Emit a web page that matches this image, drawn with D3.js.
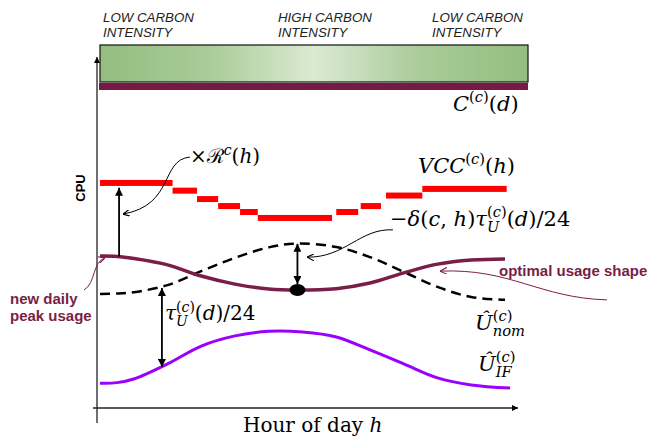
<!DOCTYPE html>
<html>
<head>
<meta charset="utf-8">
<style>
  body { margin: 0; background: #fff; }
  svg { display: block; }
</style>
</head>
<body>
<svg width="655" height="439"></svg>
<script src="https://cdn.jsdelivr.net/npm/d3@7"></script>
<script>
  // hour of day samples and usage curves (CPU, arbitrary units)
  var hours = [0, 1, 2, 4, 6, 8, 10, 11.7, 14, 16, 18, 20, 22, 24]
  var optimalUsage = [43.4, 43.3, 42.7, 40.9, 37.7, 35.4, 34.0, 33.7, 34.1, 35.7, 38.6, 41.1, 42.3, 42.6]
  var nominalUsage = [32.6, 32.7, 33.1, 35.1, 39.1, 42.9, 45.9, 47.0, 46.0, 43.1, 38.9, 34.6, 31.7, 30.9]

  var ifHours = [0, 1, 2, 4, 6, 8, 10, 12, 14, 16, 18, 20, 22, 24.3]
  var ifUsage = [7.1, 7.25, 8.3, 12.6, 17.7, 20.6, 21.9, 21.7, 20.3, 16.6, 12.6, 8.6, 6.6, 5.7]

  // virtual capacity curve, one step per block of hours
  var vccStart = [0, 4.3, 5.75, 7, 8.3, 9.35, 14, 15.45, 16.95, 19.1]
  var vccEnd = [4.3, 5.75, 7, 8.3, 9.35, 13.75, 15.3, 16.65, 19.1, 24.1]
  var vccValue = [64.3, 62.1, 59.7, 57.7, 56.0, 54.3, 56.0, 57.7, 60.7, 62.6]

  var carbonLabels = [["LOW CARBON", "INTENSITY"], ["HIGH CARBON", "INTENSITY"], ["LOW CARBON", "INTENSITY"]]
  var carbonShades = ["#94bd80", "#a9cb98", "#dbead3", "#a9cb98", "#94bd80"]

  var serif = "'DejaVu Serif', 'Liberation Serif', serif"
  var sans = "'Liberation Sans', Arial, sans-serif"
  var maroon = "#7a1e48"

  var svg = d3.select("svg")

  var x = d3.scaleLinear().domain([0, 24]).range([100, 505])
  var y = d3.scaleLinear().domain([0, 100]).range([408, 58])

  function P(h, v) {
    return [x(h), y(v)]
  }

  // markers
  var defs = svg.append("defs")
  function marker(id, color, w, h, open) {
    var m = defs.append("marker").attr("id", id)
      .attr("viewBox", "0 0 10 10").attr("refX", 10).attr("refY", 5)
      .attr("markerUnits", "userSpaceOnUse")
      .attr("markerWidth", w).attr("markerHeight", h)
      .attr("orient", "auto-start-reverse")
    if (open) {
      m.append("path").attr("d", "M0,0L10,5L0,10").attr("fill", "none")
        .attr("stroke", color).attr("stroke-width", 1.6)
    } else {
      m.append("path").attr("d", "M0,0L10,5L0,10z").attr("fill", color)
    }
  }
  marker("head", "#000", 9, 8, false)
  marker("thin", "#000", 7, 7, true)
  marker("thinM", maroon, 7, 7, true)
  marker("axis", "#000", 7, 6, false)

  var grad = defs.append("linearGradient").attr("id", "carbon")
  carbonShades.forEach(function (c, i) {
    grad.append("stop").attr("offset", i / (carbonShades.length - 1)).attr("stop-color", c)
  })

  // carbon intensity band
  svg.append("rect")
    .attr("x", x(0)).attr("y", 45)
    .attr("width", 428).attr("height", 37)
    .attr("fill", "url(#carbon)").attr("stroke", "#111").attr("stroke-width", 1.2)
  svg.append("rect")
    .attr("x", x(0) - 1).attr("y", 83)
    .attr("width", 429).attr("height", 7)
    .attr("fill", "#761a43")

  var labelX = [103, 278, 432]
  carbonLabels.forEach(function (lines, i) {
    var t = svg.append("text").attr("x", labelX[i]).attr("y", 22)
      .attr("font-family", sans).attr("font-style", "italic")
      .attr("font-size", 13.3).attr("fill", "#222")
    lines.forEach(function (l, j) {
      t.append("tspan").attr("x", labelX[i]).attr("dy", j ? 15 : 0).text(l)
    })
  })

  // axes
  svg.append("line")
    .attr("x1", 97).attr("y1", 423).attr("x2", 97).attr("y2", 57)
    .attr("stroke", "#222").attr("stroke-width", 1.3).attr("marker-end", "url(#axis)")
  svg.append("line")
    .attr("x1", 93).attr("y1", y(0)).attr("x2", 518).attr("y2", y(0))
    .attr("stroke", "#222").attr("stroke-width", 1.3).attr("marker-end", "url(#axis)")

  svg.append("text")
    .attr("transform", "translate(85,188) rotate(-90)")
    .attr("text-anchor", "middle")
    .attr("font-family", sans).attr("font-weight", "bold").attr("font-size", 13)
    .text("CPU")

  // VCC steps
  svg.append("g").selectAll("rect").data(vccValue).join("rect")
    .attr("x", function (d, i) { return x(vccStart[i]) })
    .attr("width", function (d, i) { return x(vccEnd[i]) - x(vccStart[i]) })
    .attr("y", function (d) { return y(d) - 3 })
    .attr("height", 6)
    .attr("fill", "#ff0000")

  // usage curves
  var line = d3.line()
    .x(function (d) { return x(d[0]) })
    .y(function (d) { return y(d[1]) })
    .curve(d3.curveCatmullRom.alpha(0.5))

  svg.append("path")
    .datum(d3.zip(ifHours, ifUsage))
    .attr("fill", "none").attr("stroke", "#9b00ff").attr("stroke-width", 3)
    .attr("d", line)

  svg.append("path")
    .datum(d3.zip(hours, nominalUsage))
    .attr("fill", "none").attr("stroke", "#000").attr("stroke-width", 2.5)
    .attr("stroke-dasharray", "10,6")
    .attr("d", line)

  svg.append("path")
    .datum(d3.zip(hours, optimalUsage))
    .attr("fill", "none").attr("stroke", maroon).attr("stroke-width", 3.5)
    .attr("d", line)

  // vertical arrows: [hour, from value, to value, both ends]
  var arrows = [[1.13, 43.3, 62.9, false], [11.7, 35.4, 46.9, true], [3.67, 34.3, 11.7, true]]
  arrows.forEach(function (a) {
    svg.append("line")
      .attr("x1", x(a[0])).attr("y1", y(a[1]))
      .attr("x2", x(a[0])).attr("y2", y(a[2]))
      .attr("stroke", "#000").attr("stroke-width", 1.8)
      .attr("marker-end", "url(#head)")
      .attr("marker-start", a[3] ? "url(#head)" : null)
  })

  svg.append("ellipse")
    .attr("cx", x(11.7)).attr("cy", y(33.7))
    .attr("rx", 8).attr("ry", 6).attr("fill", "#000")

  // curved leader lines, control points in (hour, value)
  var leaders = [
    [[5.33, 71.7], [3.56, 70.9], [4.44, 58.0], [1.36, 55.4], "#000", "thin"],
    [[17.36, 50.9], [15.41, 51.4], [14.52, 42.9], [12.27, 43.1], "#000", "thin"],
    [[-0.95, 33.7], [-0.24, 35.7], [-0.47, 41.7], [0.30, 42.9], maroon, "thinM"],
    [[30.04, 30.9], [26.07, 31.4], [24.30, 40.0], [20.15, 39.1], maroon, "thinM"]
  ]
  leaders.forEach(function (l) {
    var p = d3.path()
    var a = P(l[0][0], l[0][1]), b = P(l[1][0], l[1][1]), c = P(l[2][0], l[2][1]), e = P(l[3][0], l[3][1])
    p.moveTo(a[0], a[1])
    p.bezierCurveTo(b[0], b[1], c[0], c[1], e[0], e[1])
    svg.append("path").attr("d", p.toString())
      .attr("fill", "none").attr("stroke", l[4]).attr("stroke-width", 1)
      .attr("marker-end", "url(#" + l[5] + ")")
  })

  // math labels: parts are [text, flags]; i italic, ^ sup, _ sub, < stack over previous
  function mathText(px, py, size, parts) {
    var t = svg.append("text").attr("x", px).attr("y", py)
      .attr("font-family", serif).attr("font-size", size).attr("fill", "#000")
    var cur = 0, lastLen = 0
    parts.forEach(function (p) {
      var f = p[1] || ""
      var shift = f.indexOf("^") >= 0 ? -0.42 * size : f.indexOf("_") >= 0 ? 0.3 * size : 0
      var ts = t.append("tspan").text(p[0])
        .attr("font-style", f.indexOf("i") >= 0 ? "italic" : "normal")
        .attr("font-size", shift ? size * 0.7 : size)
        .attr("dy", shift - cur)
      if (f.indexOf("<") >= 0) ts.attr("dx", -lastLen)
      cur = shift
      lastLen = ts.node().getComputedTextLength()
    })
    return t
  }

  mathText(453, 111, 21, [["C", "i"], ["(", "^"], ["c", "i^"], [")", "^"], ["("], ["d", "i"], [")"]])
  mathText(190, 163, 20, [["×"], ["ℛ"], ["c", "i^"], ["("], ["h", "i"], [")"]])
  mathText(418, 173, 21, [["VCC", "i"], ["(", "^"], ["c", "i^"], [")", "^"], ["("], ["h", "i"], [")"]])
  mathText(390, 226, 21, [["−"], ["δ", "i"], ["("], ["c", "i"], [", "], ["h", "i"], [")"], ["τ", "i"],
    ["U", "i_"], ["(", "^<"], ["c", "i^"], [")", "^"], ["("], ["d", "i"], [")/24"]])
  mathText(165, 320, 20, [["τ", "i"], ["U", "i_"], ["(", "^<"], ["c", "i^"], [")", "^"], ["("], ["d", "i"], [")/24"]])
  mathText(475, 330, 21, [["Û", "i"], ["nom", "i_"], ["(", "^<"], ["c", "i^"], [")", "^"]])
  mathText(478, 371, 21, [["Û", "i"], ["IF", "i_"], ["(", "^<"], ["c", "i^"], [")", "^"]])
  mathText(243, 432, 20, [["Hour of day "], ["h", "i"]])

  // annotations
  svg.append("text").attr("x", 499).attr("y", 276)
    .attr("font-family", sans).attr("font-weight", "bold").attr("font-size", 15)
    .attr("fill", maroon).text("optimal usage shape")
  var nd = svg.append("text").attr("y", 304)
    .attr("font-family", sans).attr("font-weight", "bold").attr("font-size", 15)
    .attr("fill", maroon)
  nd.append("tspan").attr("x", 10).text("new daily")
  nd.append("tspan").attr("x", 10).attr("dy", 17).text("peak usage")
</script>
</body>
</html>
